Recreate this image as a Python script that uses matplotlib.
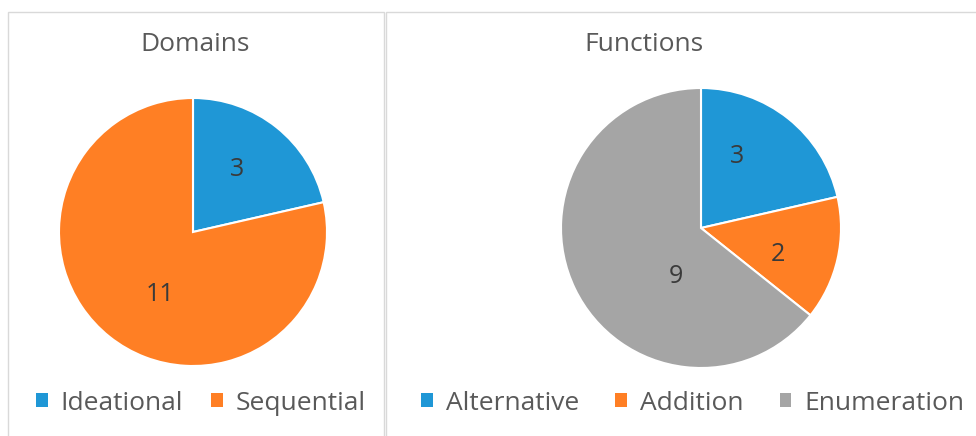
import matplotlib
matplotlib.use('Agg')
import matplotlib.pyplot as plt
from matplotlib.patches import Rectangle
import numpy as np

plt.rcParams['font.family'] = ['Open Sans', 'DejaVu Sans']

# data
domain_labels = ['Ideational', 'Sequential']
domain_values = [3, 11]
function_labels = ['Alternative', 'Addition', 'Enumeration']
function_values = [3, 2, 9]

blue = '#1f97d6'
orange = '#ff7f24'
gray = '#a5a5a5'
text_gray = '#595959'
label_color = '#3a3a3a'

W, H = 976, 436
fig = plt.figure(figsize=(W / 100, H / 100), dpi=100)


def px_box(x0, y0, x1, y1):
    # pixel box (top-left origin) -> figure fraction
    return [x0 / W, 1 - y1 / H, (x1 - x0) / W, (y1 - y0) / H]


# panel borders
for x0, y0, x1, y1 in [(8, 12, 384, 450), (386, 12, 990, 450)]:
    fig.add_artist(Rectangle((x0 / W, 1 - y1 / H), (x1 - x0) / W, (y1 - y0) / H,
                             transform=fig.transFigure, fill=False,
                             edgecolor='#d9d9d9', linewidth=1.0))


def draw_pie(box, values, colors, label_pos):
    ax = fig.add_axes(box)
    ax.pie(values, colors=colors, startangle=90, counterclock=False, radius=1,
           wedgeprops=dict(edgecolor='white', linewidth=1.5))
    total = float(sum(values))
    start = 0.0
    # data labels: nudge each from its wedge middle (angle shift deg, radial fraction)
    for v, (shift, r) in zip(values, label_pos):
        a = np.deg2rad(360 * (start + v / 2) / total + shift)
        ax.text(r * np.sin(a), r * np.cos(a), str(v), ha='center', va='center',
                fontsize=18, color=label_color)
        start += v
    ax.set_xlim(-1, 1)
    ax.set_ylim(-1, 1)
    ax.set_aspect('equal')
    ax.axis('off')
    return ax


draw_pie(px_box(59, 98, 327, 366), domain_values, [blue, orange],
         [(-3, 0.57), (-11, 0.53)])
draw_pie(px_box(561, 88, 841, 368), function_values, [blue, orange, gray],
         [(-12, 0.57), (6, 0.58), (-37, 0.39)])

# titles
fig.text(195 / W, 1 - 44 / H, 'Domains', ha='center', va='center',
         fontsize=19, color=text_gray)
fig.text(644 / W, 1 - 44 / H, 'Functions', ha='center', va='center',
         fontsize=19, color=text_gray)


def legend(labels, colors, x_center, spacing):
    handles = [Rectangle((0, 0), 1, 1, facecolor=c) for c in colors]
    fig.legend(handles, labels, loc='center', ncol=len(labels),
               bbox_to_anchor=(x_center / W, 1 - 403 / H), frameon=False,
               fontsize=19, labelcolor=text_gray, handlelength=0.45, handleheight=0.45,
               handletextpad=0.5, columnspacing=spacing)


legend(domain_labels, [blue, orange], 201, 1.05)
legend(function_labels, [blue, orange, gray], 693, 1.35)

fig.savefig('out.png', dpi=100)
